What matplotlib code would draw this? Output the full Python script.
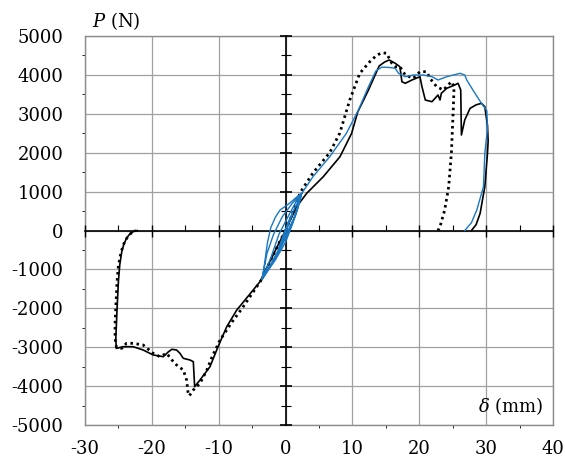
import matplotlib
matplotlib.use("Agg")
import matplotlib.pyplot as plt
from matplotlib.ticker import MultipleLocator

plt.rcParams['font.family'] = ['DejaVu Serif']
plt.rcParams['mathtext.fontset'] = 'dejavuserif'

# ---- data ----
solid_pos_x = [0, 0.8, 1.66, 3.16, 5.64, 8.14, 9.88, 10.8, 12.4, 14.0, 14.8, 15.5, 16.4, 17.1, 17.4,
               17.9, 18.9, 20.1, 20.4, 20.9, 21.9, 22.8, 23.1, 23.3, 24.1, 25.3, 25.8, 26.2, 26.3,
               26.8, 27.6, 28.5, 29.3, 29.8, 30.2, 30.3, 30.2, 29.8, 29.1, 28.5, 27.8]
solid_pos_y = [0, 300, 612, 956, 1383, 1897, 2499, 3050, 3612, 4230, 4330, 4383, 4298, 4211, 3825,
               3784, 3869, 3954, 3697, 3355, 3311, 3483, 3355, 3527, 3655, 3740, 3784, 3612, 2455,
               2841, 3141, 3230, 3270, 3183, 2700, 2300, 1985, 1126, 442, 150, 0]

solid_neg_x = [0, -1.0, -2.0, -3.0, -3.83, -6.07, -7.3, -8.8, -10.1, -11.3, -12.8, -13.6, -13.8,
               -14.3, -15.3, -15.8, -16.3, -17.0, -17.5, -18.3, -19.8, -21.3, -22.8, -24.3, -25.3,
               -25.4, -25.3, -25.2, -25.0, -24.8, -24.5, -24.2, -23.8, -23.3, -22.8, -22.2]
solid_neg_y = [0, -330, -680, -1020, -1316, -1787, -2044, -2473, -2987, -3500, -3843, -4015, -3372,
               -3329, -3286, -3157, -3072, -3054, -3115, -3244, -3200, -3072, -2987, -2987, -3030,
               -2815, -2400, -2000, -1300, -880, -545, -360, -200, -90, -30, 0]

dot_pos_x = [0, 1.0, 2.2, 4.1, 6.6, 8.1, 9.6, 11.1, 12.6, 13.6, 14.4, 15.1, 15.9, 16.4, 17.1,
             17.9, 19.1, 20.1, 21.1, 21.6, 22.6, 23.6, 24.8, 25.2, 25.1, 24.8, 24.4, 23.8, 23.1, 22.8]
dot_pos_y = [0, 420, 980, 1480, 2000, 2499, 3355, 4041, 4340, 4500, 4571, 4555, 4298, 4211, 4211,
             3997, 3912, 4083, 4083, 3912, 3697, 3612, 3825, 3700, 3183, 1985, 1126, 527, 98, 0]

dot_neg_x = [0, -1.0, -2.0, -3.5, -5.0, -6.5, -8.0, -9.8, -11.0, -11.8, -12.8, -13.8, -14.4,
             -14.6, -14.8, -15.3, -16.3, -17.0, -17.8, -18.8, -19.8, -21.3, -22.8, -23.8, -24.5,
             -25.3, -25.5, -25.5, -25.4, -25.2, -25.0, -24.6, -24.1, -23.5, -22.9, -22.4]
dot_neg_y = [0, -330, -680, -1240, -1620, -2000, -2350, -2815, -3250, -3600, -3928, -4100, -4250,
             -4150, -3843, -3586, -3458, -3329, -3157, -3244, -3157, -2943, -2900, -2900, -3030,
             -3000, -2771, -2400, -2000, -1300, -900, -550, -300, -130, -40, 0]

blue_x = [0, 0.5, 1.0, 0.3, -0.4, -1.0, -0.3, 0.5, 1.2, 1.8, 2.4, 1.9, 1.0, 0.0, -1.5, -3.5,
          -3.1, -2.7, -2.2, -1.5, -0.8, 0.6, 1.6, 2.4, 1.5, 0.3, -1.5, -3.5, -2.8, -1.8, -0.5, 1.0,
          2.4, 1.2, -0.5, -2.0, -3.5, -2.2, -1.0, 0.5, 1.6, 2.4, 4.1, 6.6, 9.1, 10.9, 12.4,
          13.5, 14.4, 15.6, 16.4, 16.9, 17.9, 19.1, 20.6, 21.9, 22.8, 24.1, 26.1, 26.8, 27.1,
          28.1, 29.3, 30.1, 30.2, 30.0, 29.8, 29.6, 28.6, 27.8, 26.8]
blue_y = [0, 220, 420, 100, -200, -450, -100, 250, 520, 720, 950, 600, 150, -300, -750, -1250,
          -800, -300, 80, 350, 530, 700, 850, 950, 400, -100, -700, -1250, -600, -100, 350, 700,
          950, 300, -300, -800, -1250, -700, -100, 400, 750, 950, 1383, 1897, 2499, 3098, 3697,
          4100, 4200, 4190, 4169, 4041, 3954, 3997, 3997, 3954, 3869, 3954, 4041, 3997, 3869,
          3590, 3270, 3080, 2600, 2300, 1985, 1126, 527, 200, 0]

x_ticks = [-30, -20, -10, 0, 10, 20, 30, 40]
y_ticks = [-5000, -4000, -3000, -2000, -1000, 0, 1000, 2000, 3000, 4000, 5000]

# ---- figure ----
fig = plt.figure(figsize=(5.65, 4.62), dpi=100)
rect = [85 / 565, 37 / 462, 468 / 565, 389 / 462]
ax = fig.add_axes(rect)
ax.set_xlim(-30, 40)
ax.set_ylim(-5000, 5000)
ax.set_xticks(x_ticks)
ax.set_yticks(y_ticks)
ax.set_xticklabels([str(v) for v in x_ticks])
ax.set_yticklabels([str(v) for v in y_ticks])
ax.tick_params(axis='y', length=0, pad=15.5, labelsize=13)
ax.tick_params(axis='x', length=0, pad=11, labelsize=13)
ax.grid(True, color='#a0a0a0', lw=0.9)
for s in ax.spines.values():
    s.set_color('#8c8c8c')
    s.set_linewidth(1.0)

# overlay axes with the centred black axis lines
ax2 = fig.add_axes(rect, sharex=ax, sharey=ax)
ax2.patch.set_visible(False)
ax2.spines['right'].set_visible(False)
ax2.spines['top'].set_visible(False)
ax2.spines['left'].set_position(('data', 0))
ax2.spines['bottom'].set_position(('data', 0))
for s in ('left', 'bottom'):
    ax2.spines[s].set_color('black')
    ax2.spines[s].set_linewidth(1.2)
ax2.xaxis.set_major_locator(MultipleLocator(10))
ax2.xaxis.set_minor_locator(MultipleLocator(5))
ax2.yaxis.set_major_locator(MultipleLocator(1000))
ax2.yaxis.set_minor_locator(MultipleLocator(500))
ax2.tick_params(axis='x', which='major', direction='inout', length=8, width=1.0, labelbottom=False)
ax2.tick_params(axis='x', which='minor', direction='in', length=4.5, width=0.8)
ax2.tick_params(axis='y', which='major', direction='inout', length=8, width=1.2, labelleft=False)
ax2.tick_params(axis='y', which='minor', direction='inout', length=7, width=0.8)

# curves
ax2.plot(solid_pos_x, solid_pos_y, color='black', lw=1.2, zorder=3)
ax2.plot(solid_neg_x, solid_neg_y, color='black', lw=1.2, zorder=3)
ax2.plot(dot_pos_x, dot_pos_y, color='black', lw=2.0, linestyle=(0, (0.9, 1.3)), zorder=3)
ax2.plot(dot_neg_x, dot_neg_y, color='black', lw=2.0, linestyle=(0, (0.9, 1.3)), zorder=3)
ax2.plot(blue_x, blue_y, color='#1a78c2', lw=1.0, zorder=4)

fig.text(92 / 565, 1 - 21 / 462, r'$P$ (N)', fontsize=13, ha='left', va='center')
fig.text(543 / 565, 1 - 406 / 462, r'$\delta$ (mm)', fontsize=13, ha='right', va='center')

fig.savefig('out.png', dpi=100)
